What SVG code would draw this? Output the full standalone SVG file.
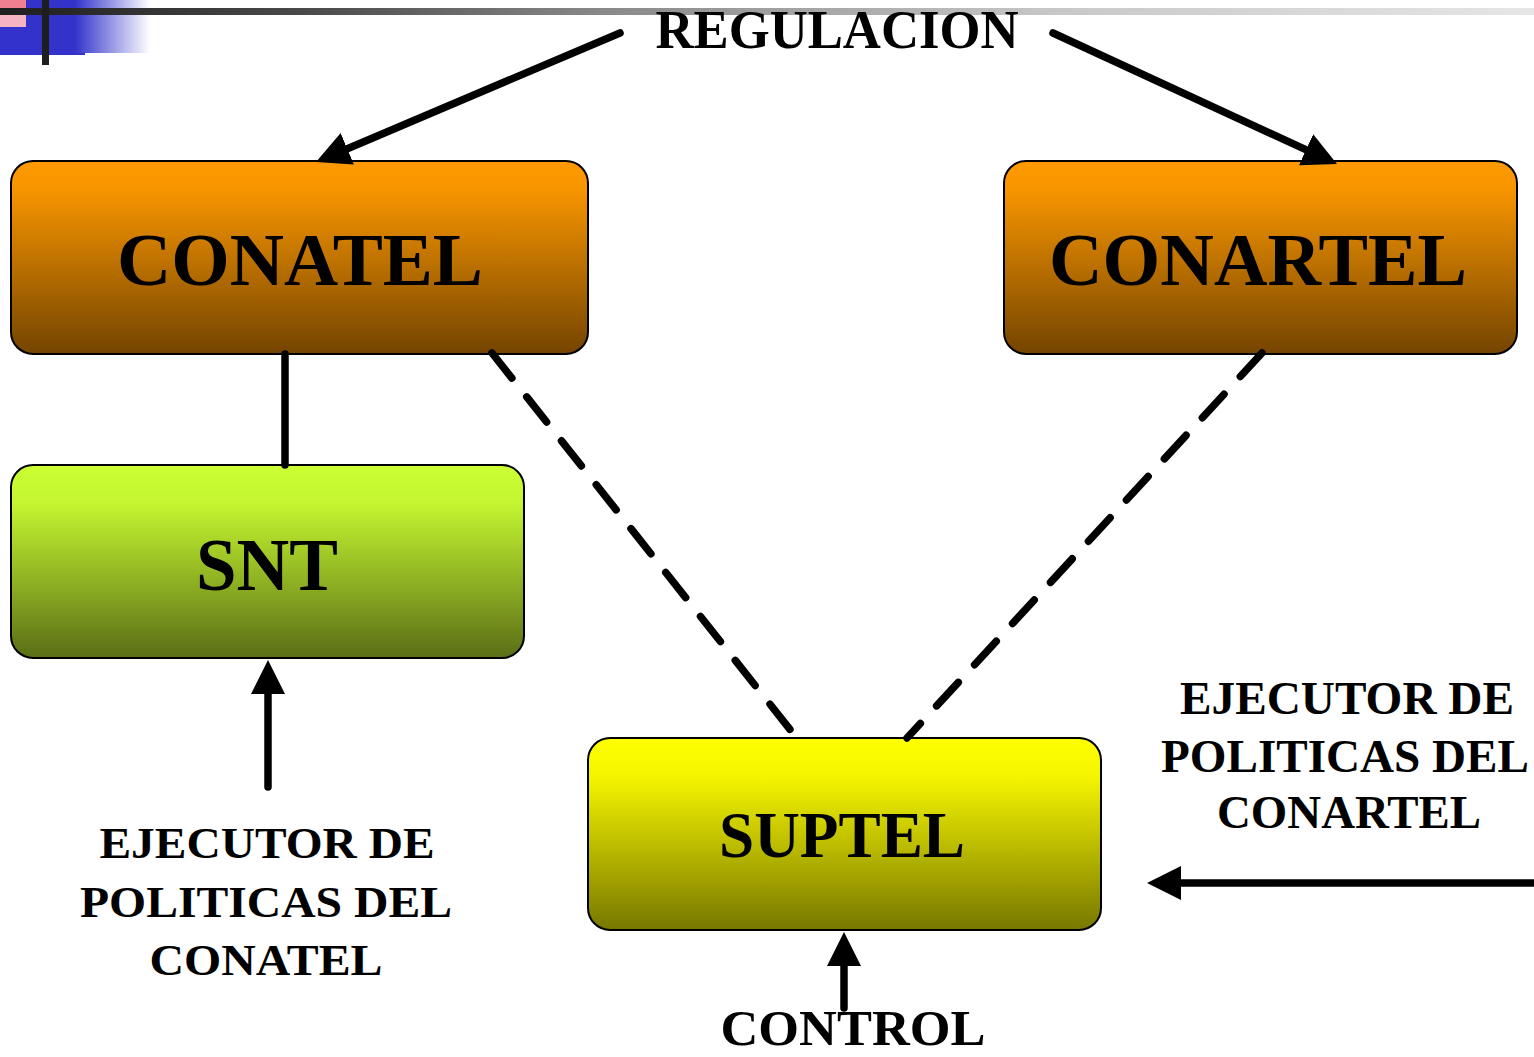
<svg xmlns="http://www.w3.org/2000/svg" width="1534" height="1057" viewBox="0 0 1534 1057">
  <defs>
    <linearGradient id="gOrange" x1="0" y1="0" x2="0" y2="1">
      <stop offset="0" stop-color="#FF9A00"/>
      <stop offset="0.15" stop-color="#F79500"/>
      <stop offset="1" stop-color="#744400"/>
    </linearGradient>
    <linearGradient id="gGreen" x1="0" y1="0" x2="0" y2="1">
      <stop offset="0" stop-color="#CCFF33"/>
      <stop offset="0.2" stop-color="#C4F530"/>
      <stop offset="1" stop-color="#5A6E16"/>
    </linearGradient>
    <linearGradient id="gYellow" x1="0" y1="0" x2="0" y2="1">
      <stop offset="0" stop-color="#FFFF00"/>
      <stop offset="0.2" stop-color="#F5F500"/>
      <stop offset="1" stop-color="#777700"/>
    </linearGradient>
    <linearGradient id="gTopLine" x1="0" y1="0" x2="1534" y2="0" gradientUnits="userSpaceOnUse">
      <stop offset="0" stop-color="#1E1E1E"/>
      <stop offset="0.2" stop-color="#4A4A4A"/>
      <stop offset="0.39" stop-color="#888888"/>
      <stop offset="0.69" stop-color="#C8C8C8"/>
      <stop offset="1" stop-color="#E6E6E6"/>
    </linearGradient>
    <linearGradient id="gBlue" x1="0" y1="0" x2="1" y2="0">
      <stop offset="0" stop-color="#3333CC"/>
      <stop offset="1" stop-color="#3333CC" stop-opacity="0"/>
    </linearGradient>
    <marker id="arrow" markerUnits="userSpaceOnUse" markerWidth="34" markerHeight="34" viewBox="0 0 34 34" refX="14" refY="17" orient="auto">
      <path d="M0,0 L34,17 L0,34 z" fill="#000"/>
    </marker>
    <style>
      .box { stroke: #000; stroke-width: 2; }
      .lbl { font-family: "Liberation Serif", "Times New Roman", serif; font-weight: bold; fill: #000; text-anchor: middle; }
      .conn { fill: none; stroke: #000; stroke-width: 7.5; stroke-linecap: round; }
      .dash { stroke-dasharray: 32 24; }
    </style>
  </defs>

  <rect width="1534" height="1057" fill="#FFFFFF"/>

  <!-- top-left decoration -->
  <g id="decoration">
    <rect x="0" y="0" width="75" height="55" fill="#3333CC"/>
    <rect x="75" y="53" width="10" height="2" fill="#3333CC"/>
    <rect x="75" y="0" width="75" height="53" fill="url(#gBlue)"/>
    <rect x="0" y="0" width="26" height="14" fill="#F08090"/>
    <rect x="0" y="14" width="26" height="13" fill="#F4B4C0"/>
    <rect x="0" y="8" width="1534" height="7" fill="url(#gTopLine)"/>
    <rect x="42" y="0" width="7" height="65" fill="#1E1E1E"/>
  </g>

  <g id="node-conatel">
    <rect class="box" x="11" y="161" width="577" height="193" rx="22" fill="url(#gOrange)"/>
    <text class="lbl" x="300" y="285" font-size="75" textLength="366" lengthAdjust="spacingAndGlyphs">CONATEL</text>
  </g>
  <g id="node-conartel">
    <rect class="box" x="1004" y="161" width="513" height="193" rx="22" fill="url(#gOrange)"/>
    <text class="lbl" x="1258" y="285" font-size="75" textLength="418" lengthAdjust="spacingAndGlyphs">CONARTEL</text>
  </g>
  <g id="node-snt">
    <rect class="box" x="11" y="465" width="513" height="193" rx="22" fill="url(#gGreen)"/>
    <text class="lbl" x="267" y="590" font-size="73" textLength="142" lengthAdjust="spacingAndGlyphs">SNT</text>
  </g>
  <g id="node-suptel">
    <rect class="box" x="588" y="738" width="513" height="192" rx="22" fill="url(#gYellow)"/>
    <text class="lbl" x="842" y="857" font-size="66" textLength="246" lengthAdjust="spacingAndGlyphs">SUPTEL</text>
  </g>

  <g id="labels">
    <text class="lbl" x="837" y="48" font-size="54" textLength="363" lengthAdjust="spacingAndGlyphs">REGULACION</text>
    <text class="lbl" x="267" y="858" font-size="44" textLength="335" lengthAdjust="spacingAndGlyphs">EJECUTOR DE</text>
    <text class="lbl" x="266" y="917" font-size="44" textLength="372" lengthAdjust="spacingAndGlyphs">POLITICAS DEL</text>
    <text class="lbl" x="266" y="975" font-size="44" textLength="233" lengthAdjust="spacingAndGlyphs">CONATEL</text>
    <text class="lbl" x="1347" y="714" font-size="46" textLength="334" lengthAdjust="spacingAndGlyphs">EJECUTOR DE</text>
    <text class="lbl" x="1345" y="772" font-size="46" textLength="368" lengthAdjust="spacingAndGlyphs">POLITICAS DEL</text>
    <text class="lbl" x="1349" y="828" font-size="46" textLength="264" lengthAdjust="spacingAndGlyphs">CONARTEL</text>
    <text class="lbl" x="853" y="1045" font-size="50" textLength="265" lengthAdjust="spacingAndGlyphs">CONTROL</text>
  </g>

  <g id="connectors">
    <line class="conn" x1="620" y1="33" x2="334.4" y2="154.2" marker-end="url(#arrow)"/>
    <line class="conn" x1="1053" y1="33" x2="1318.8" y2="155.6" marker-end="url(#arrow)"/>
    <line class="conn" x1="285" y1="354" x2="285" y2="465"/>
    <line class="conn dash" x1="492" y1="353" x2="792" y2="732"/>
    <line class="conn dash" x1="1262" y1="353" x2="907" y2="738"/>
    <line class="conn" x1="268" y1="787" x2="268" y2="680" marker-end="url(#arrow)"/>
    <line class="conn" x1="844" y1="1008" x2="844" y2="952" marker-end="url(#arrow)"/>
    <line class="conn" x1="1540" y1="883" x2="1167" y2="883" stroke-width="8" marker-end="url(#arrow)"/>
  </g>
</svg>
